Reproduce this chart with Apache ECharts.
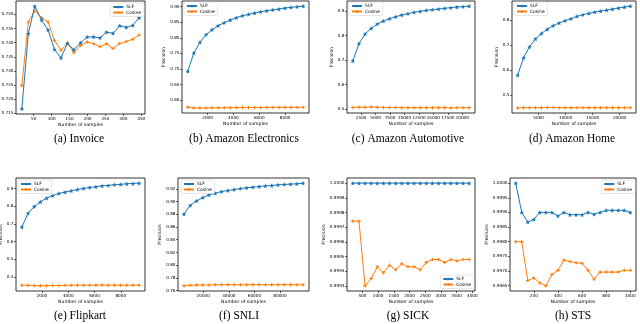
<!DOCTYPE html>
<html><head><meta charset="utf-8">
<script src="https://cdn.jsdelivr.net/npm/echarts@6/dist/echarts.min.js"></script>
<style>html,body{margin:0;padding:0;background:#fff}#c{width:640px;height:324px}</style>
</head><body><div id="c"></div>
<script>
// ---- (a) Invoice ----
const xInvoice = [17,35,53,72,90,108,126,144,162,181,199,217,235,253,271,290,308,326,344];
const slfInvoice = [0.7166,0.7432,0.7529,0.7480,0.7445,0.7376,0.7346,0.7397,0.7375,0.7400,0.7420,0.7420,0.7417,0.7437,0.7433,0.7460,0.7454,0.7461,0.7488];
const cosInvoice = [0.7249,0.7473,0.7512,0.7488,0.7473,0.7408,0.7373,0.7399,0.7364,0.7390,0.7402,0.7396,0.7386,0.7396,0.7379,0.7397,0.7404,0.7412,0.7427];
const xTicksInvoice = [50,100,150,200,250,300,350];
const yTicksInvoice = [0.715,0.720,0.725,0.730,0.735,0.740,0.745,0.750];
// ---- (b) Amazon Electronics ----
const xElectronics = [470,940,1410,1880,2350,2820,3290,3760,4230,4700,5170,5640,6110,6580,7050,7520,7990,8460,8930,9400];
const slfElectronics = [0.6923,0.7512,0.7854,0.8100,0.8260,0.8390,0.8486,0.8572,0.8647,0.8710,0.8754,0.8797,0.8840,0.8870,0.8900,0.8925,0.8957,0.8979,0.9000,0.9020];
const cosElectronics = [0.5770,0.5745,0.5745,0.5745,0.5748,0.5748,0.5750,0.5752,0.5755,0.5758,0.5758,0.5758,0.5760,0.5762,0.5762,0.5762,0.5765,0.5762,0.5762,0.5765];
const xTicksElectronics = [2000,4000,6000,8000];
const yTicksElectronics = [0.60,0.65,0.70,0.75,0.80,0.85,0.90];
// ---- (c) Amazon Automotive ----
const xAutomotive = [1060,2120,3180,4240,5300,6360,7420,8480,9540,10600,11660,12720,13780,14840,15900,16960,18020,19080,20140,21200];
const slfAutomotive = [0.696,0.7667,0.806,0.829,0.847,0.859,0.8687,0.8769,0.8837,0.889,0.8946,0.8986,0.9027,0.9054,0.908,0.911,0.9136,0.9163,0.9177,0.920];
const cosAutomotive = [0.506,0.507,0.507,0.508,0.507,0.506,0.506,0.506,0.505,0.505,0.505,0.505,0.505,0.505,0.505,0.505,0.504,0.505,0.505,0.505];
const xTicksAutomotive = [2500,5000,7500,10000,12500,15000,17500,20000];
const yTicksAutomotive = [0.5,0.6,0.7,0.8,0.9];
// ---- (d) Amazon Home ----
const xHome = [1100,2200,3300,4400,5500,6600,7700,8800,9900,11000,12100,13200,14300,15400,16500,17600,18700,19800,20900,22000];
const slfHome = [0.5787,0.649,0.693,0.725,0.7467,0.764,0.7787,0.7893,0.7987,0.8067,0.816,0.8227,0.828,0.8333,0.8373,0.8413,0.8453,0.8493,0.8533,0.8573];
const cosHome = [0.447,0.448,0.448,0.448,0.448,0.449,0.449,0.448,0.448,0.448,0.448,0.448,0.448,0.448,0.448,0.448,0.448,0.448,0.448,0.448];
const xTicksHome = [5000,10000,15000,20000];
const yTicksHome = [0.5,0.6,0.7,0.8];
// ---- (e) Flipkart ----
const xFlipkart = [470,940,1410,1880,2350,2820,3290,3760,4230,4700,5170,5640,6110,6580,7050,7520,7990,8460,8930,9400];
const slfFlipkart = [0.682,0.760,0.798,0.824,0.845,0.860,0.8716,0.879,0.8867,0.894,0.900,0.9057,0.9095,0.915,0.917,0.921,0.923,0.9265,0.928,0.930];
const cosFlipkart = [0.354,0.353,0.352,0.350,0.351,0.352,0.352,0.353,0.353,0.354,0.354,0.354,0.354,0.355,0.354,0.354,0.354,0.354,0.354,0.354];
const xTicksFlipkart = [2000,4000,6000,8000];
const yTicksFlipkart = [0.4,0.5,0.6,0.7,0.8,0.9];
// ---- (f) SNLI ----
const xSNLI = [4900,9800,14700,19600,24500,29400,34300,39200,44100,49000,53900,58800,63700,68600,73500,78400,83300,88200,93100,98000];
const slfSNLI = [0.8804,0.8941,0.9010,0.9063,0.9105,0.9131,0.9158,0.9174,0.9190,0.9205,0.9216,0.9226,0.9237,0.9247,0.9253,0.9263,0.9269,0.9274,0.9279,0.9290];
const cosSNLI = [0.7675,0.7685,0.7688,0.7690,0.7690,0.7693,0.7693,0.7693,0.7693,0.7693,0.7693,0.7693,0.7693,0.7693,0.7693,0.7693,0.7693,0.7693,0.7693,0.7693];
const xTicksSNLI = [20000,40000,60000,80000];
const yTicksSNLI = [0.76,0.78,0.80,0.82,0.84,0.86,0.88,0.90,0.92];
// ---- (g) SICK ----
const xSICK = [195,390,585,780,975,1170,1365,1560,1755,1950,2145,2340,2535,2730,2925,3120,3315,3510,3705,3900];
const slfSICK = [1,1,1,1,1,1,1,1,1,1,1,1,1,1,1,1,1,1,1,1];
const cosSICK = [0.999741,0.999741,0.99930,0.99935,0.99943,0.99939,0.99944,0.99941,0.99945,0.99943,0.99943,0.99941,0.99946,0.99948,0.99948,0.99946,0.99948,0.99947,0.99948,0.99948];
const xTicksSICK = [500,1000,1500,2000,2500,3000,3500,4000];
const yTicksSICK = [0.9993,0.9994,0.9995,0.9996,0.9997,0.9998,0.9999,1.0000];
// ---- (h) STS ----
const xSTS = [50,100,150,200,250,300,350,400,450,500,550,600,650,700,750,800,850,900,950,1000];
const slfSTS = [1.0000,0.9990,0.99867,0.99876,0.9990,0.9990,0.9990,0.99888,0.9990,0.99892,0.99892,0.99892,0.9990,0.99894,0.9990,0.99907,0.99907,0.99907,0.99907,0.9990];
const cosSTS = [0.99800,0.99800,0.99667,0.99676,0.99659,0.99649,0.99688,0.99702,0.99737,0.99732,0.99728,0.99726,0.99702,0.99672,0.99696,0.99696,0.99696,0.99696,0.99702,0.99702];
const xTicksSTS = [200,400,600,800,1000];
const yTicksSTS = [0.9965,0.9970,0.9975,0.9980,0.9985,0.9990,0.9995,1.0000];

const captions = ['(a) Invoice','(b) Amazon Electronics','(c) Amazon Automotive','(d) Amazon Home','(e) Flipkart','(f) SNLI','(g) SICK','(h) STS'];

const panels = [
  {x:xInvoice, s:slfInvoice, c:cosInvoice, xt:xTicksInvoice, yt:yTicksInvoice, dec:3, box:[16,1,145,114], yGap:13, leg:{right:640-144, top:3}, cap:[79,139]},
  {x:xElectronics, s:slfElectronics, c:cosElectronics, xt:xTicksElectronics, yt:yTicksElectronics, dec:2, box:[182,1,309,113], yGap:13, leg:{left:184, top:2}, cap:[244,139]},
  {x:xAutomotive, s:slfAutomotive, c:cosAutomotive, xt:xTicksAutomotive, yt:yTicksAutomotive, dec:1, box:[347,1,475,113], yGap:11, leg:{left:349, top:2}, cap:[408,139]},
  {x:xHome, s:slfHome, c:cosHome, xt:xTicksHome, yt:yTicksHome, dec:1, box:[512,1,636,113], yGap:11, leg:{left:514, top:2}, cap:[572,139]},
  {x:xFlipkart, s:slfFlipkart, c:cosFlipkart, xt:xTicksFlipkart, yt:yTicksFlipkart, dec:1, box:[16,178,145,291], yGap:10, leg:{left:18, top:180}, cap:[80,316]},
  {x:xSNLI, s:slfSNLI, c:cosSNLI, xt:xTicksSNLI, yt:yTicksSNLI, dec:2, box:[178,178,309,291], yGap:12, leg:{left:181, top:180}, cap:[239,316]},
  {x:xSICK, s:slfSICK, c:cosSICK, xt:xTicksSICK, yt:yTicksSICK, dec:4, box:[347,178,475,291], yGap:16, leg:{right:640-474, top:275}, cap:[408,316]},
  {x:xSTS, s:slfSTS, c:cosSTS, xt:xTicksSTS, yt:yTicksSTS, dec:4, box:[510,178,636,291], yGap:16, leg:{right:640-635, top:180}, cap:[573,316]}
];

const BLUE = '#1f77b4', ORANGE = '#ff7f0e';
const STAR = 'path://M10,0 L12.9,6.9 L20,7.6 L14.6,12.3 L16.2,19.4 L10,15.7 L3.8,19.4 L5.4,12.3 L0,7.6 L7.1,6.9 Z';
const PLUS = 'path://M7,0 L13,0 L13,7 L20,7 L20,13 L13,13 L13,20 L7,20 L7,13 L0,13 L0,7 L7,7 Z';
const FONT = 'DejaVu Sans';

const grid = [], xAxis = [], yAxis = [], series = [], legend = [], graphic = [];
panels.forEach((p, i) => {
  const [l, t, r, b] = p.box;
  grid.push({left:l, top:t, width:r-l, height:b-t, show:true, borderColor:'#000', borderWidth:0.8, backgroundColor:'transparent', containLabel:false, outerBoundsMode:'none'});
  const xmin = Math.min(...p.x), xmax = Math.max(...p.x), xr = xmax - xmin;
  const all = p.s.concat(p.c);
  const ymin = Math.min(...all), ymax = Math.max(...all), yr = ymax - ymin;
  xAxis.push({
    gridIndex:i, type:'value', min:xmin - 0.05*xr, max:xmax + 0.05*xr,
    axisLine:{show:false}, splitLine:{show:false},
    axisTick:{show:true, inside:false, length:2, lineStyle:{color:'#000', width:0.6}, customValues:p.xt},
    axisLabel:{show:true, customValues:p.xt, fontSize:4.2, fontFamily:FONT, color:'#000', margin:2.5, formatter:v => String(Math.round(v))},
    name:'Number of samples', nameLocation:'middle', nameGap:8.5, nameTextStyle:{fontSize:4.6, fontFamily:FONT, color:'#000'}
  });
  yAxis.push({
    gridIndex:i, type:'value', min:ymin - 0.05*yr, max:ymax + 0.05*yr,
    axisLine:{show:false}, splitLine:{show:false},
    axisTick:{show:true, inside:false, length:2, lineStyle:{color:'#000', width:0.6}, customValues:p.yt},
    axisLabel:{show:true, customValues:p.yt, fontSize:4.2, fontFamily:FONT, color:'#000', margin:2.5, formatter:v => v.toFixed(p.dec)},
    name:'Precision', nameLocation:'middle', nameGap:p.yGap, nameRotate:90, nameTextStyle:{fontSize:4.6, fontFamily:FONT, color:'#000'}
  });
  series.push({
    name:'SLF', type:'line', xAxisIndex:i, yAxisIndex:i,
    data:p.x.map((v, k) => [v, p.s[k]]),
    symbol:STAR, symbolSize:4.5, showAllSymbol:true,
    itemStyle:{color:BLUE}, lineStyle:{color:BLUE, width:1}, animation:false, z:3
  });
  series.push({
    name:'Cosine', type:'line', xAxisIndex:i, yAxisIndex:i,
    data:p.x.map((v, k) => [v, p.c[k]]),
    symbol:PLUS, symbolSize:3.5, showAllSymbol:true,
    itemStyle:{color:ORANGE}, lineStyle:{color:ORANGE, width:1}, animation:false, z:2
  });
  legend.push(Object.assign({
    orient:'vertical', data:['SLF','Cosine'], itemWidth:10, itemHeight:4, itemGap:1.5,
    padding:[2,3,2,2], borderColor:'#ccc', borderWidth:0.5, borderRadius:1.5, backgroundColor:'#fff',
    textStyle:{fontSize:4.4, fontFamily:FONT, color:'#000', padding:[0,0,0,-2]}, selectedMode:false
  }, p.leg));
  graphic.push({type:'text', x:p.cap[0], y:p.cap[1], style:{text:captions[i], font:'11.5px "Liberation Serif"', fill:'#000', textAlign:'center', textVerticalAlign:'middle'}});
});

const chart = echarts.init(document.getElementById('c'), null, {renderer:'canvas'});
chart.setOption({animation:false, backgroundColor:'#fff', grid, xAxis, yAxis, series, legend, graphic});
</script>
</body></html>
